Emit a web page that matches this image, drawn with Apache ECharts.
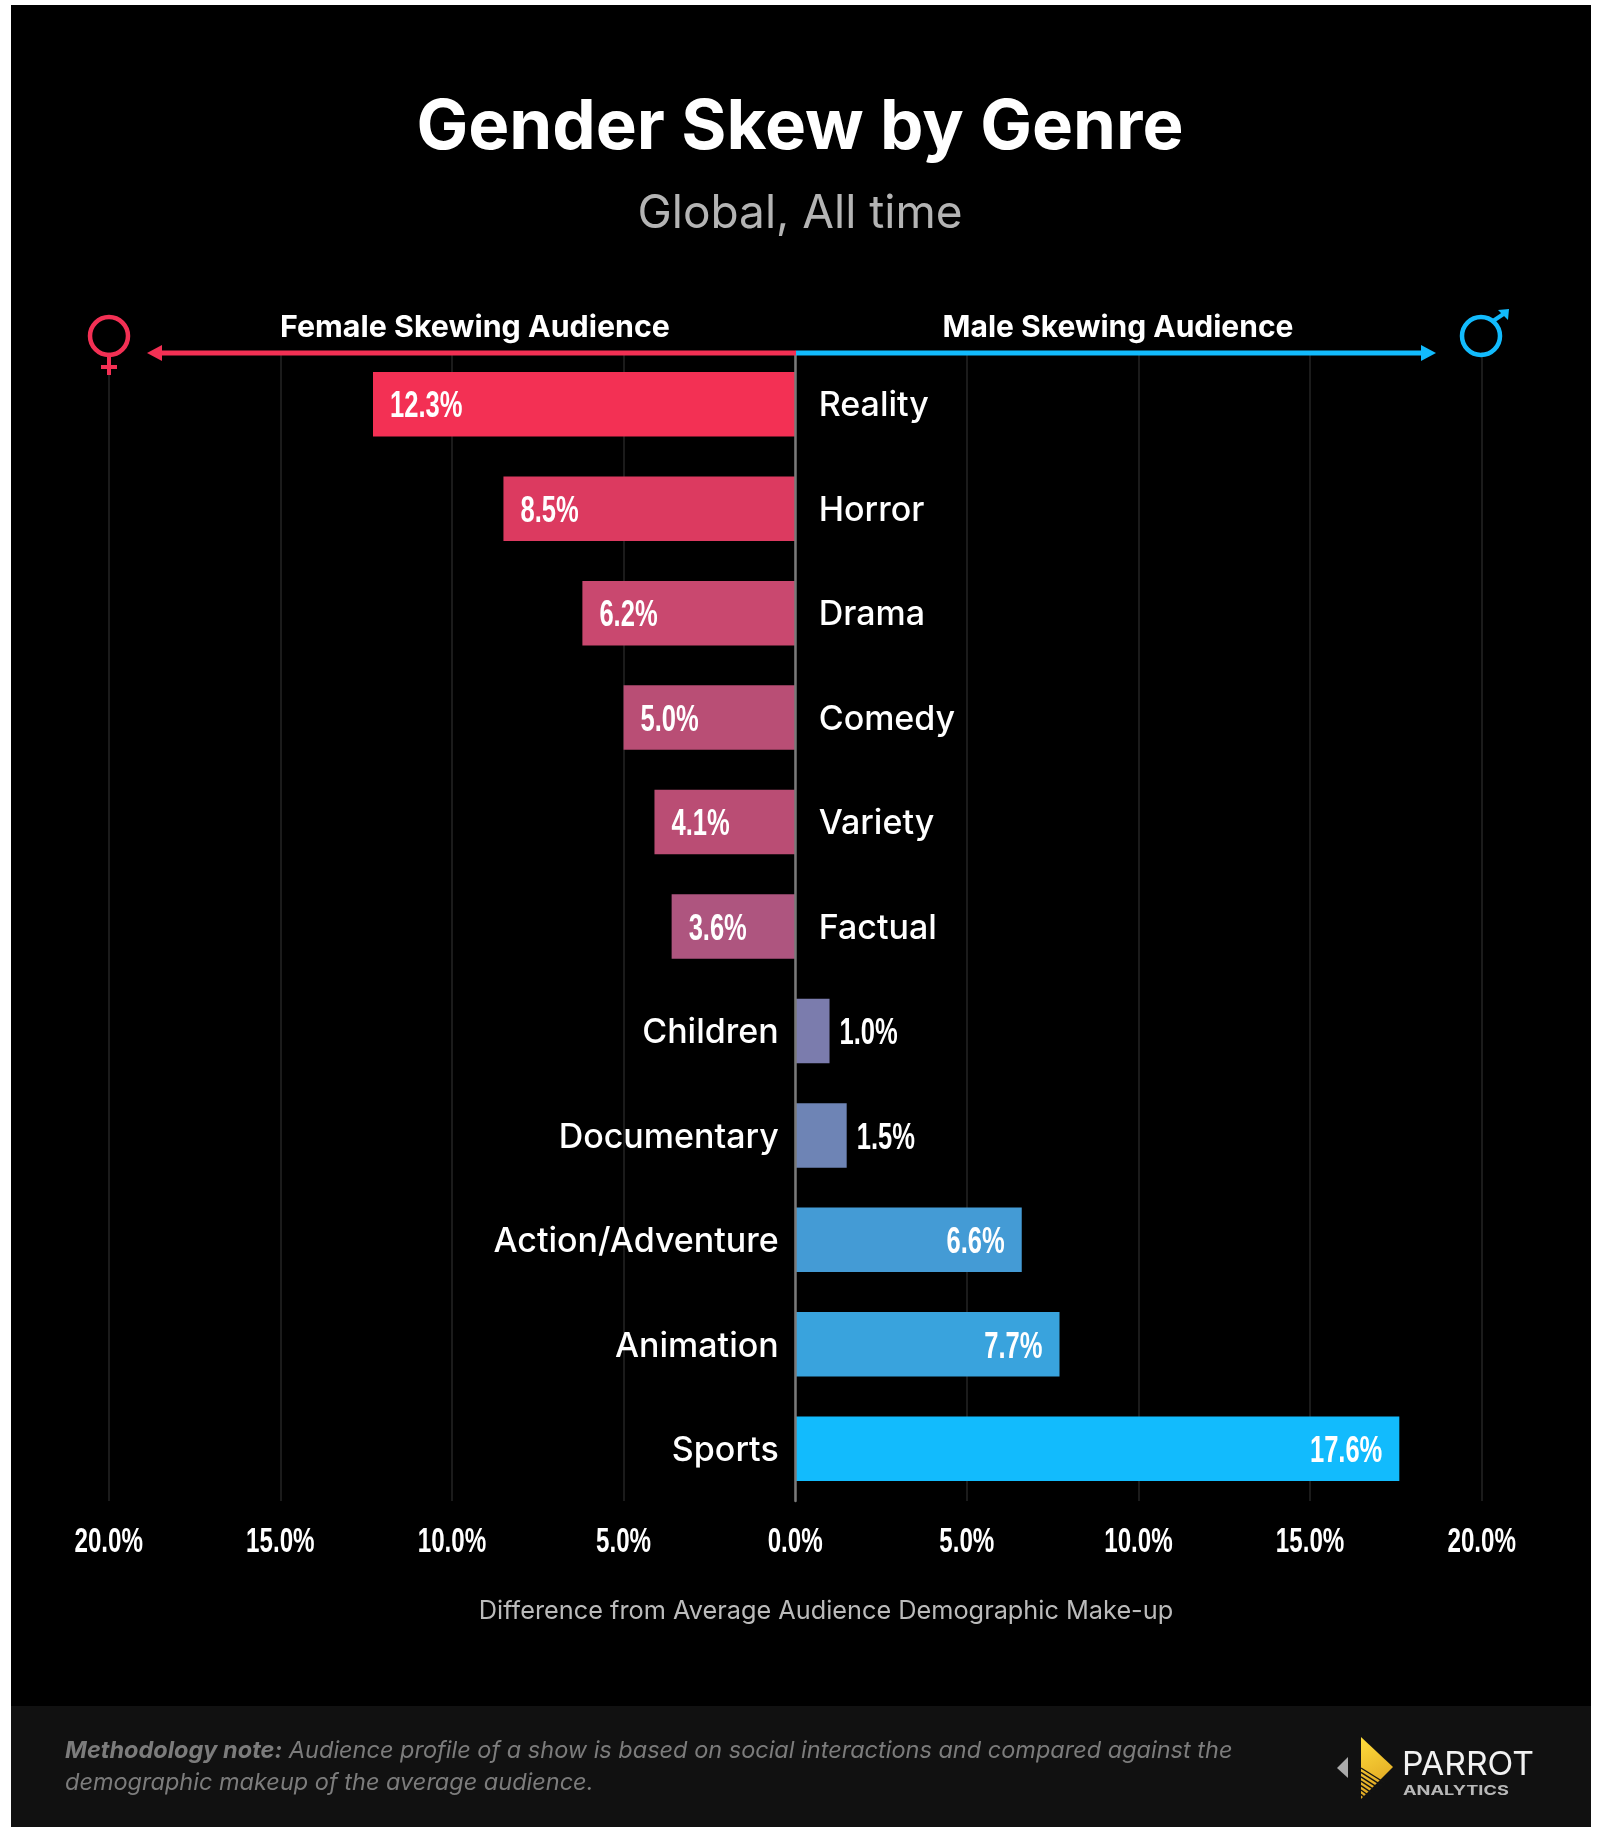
<!DOCTYPE html>
<html>
<head>
<meta charset="utf-8">
<title>Gender Skew by Genre</title>
<script src="https://cdn.jsdelivr.net/npm/echarts@6/dist/echarts.min.js"></script>
<style>
  html, body { margin: 0; padding: 0; background: #fff; }
  #chart { width: 1600px; height: 1829px; }
</style>
</head>
<body>
<div id="chart"></div>
<script>
const genres = ['Reality', 'Horror', 'Drama', 'Comedy', 'Variety', 'Factual', 'Children', 'Documentary', 'Action/Adventure', 'Animation', 'Sports'];
// negative = female skew, positive = male skew
const skew = [-12.3, -8.5, -6.2, -5.0, -4.1, -3.6, 1.0, 1.5, 6.6, 7.7, 17.6];
const barColors = ['#F33054', '#DC3A60', '#C9486F', '#B94E75', '#BA4D74', '#AE557F', '#7B7CAD', '#6E84B5', '#449BD5', '#39A3DD', '#12BBFD'];
const xTicks = [-20, -15, -10, -5, 0, 5, 10, 15, 20];

const PINK = '#F33054';
const BLUE = '#12BBFD';
const mainFont = 'Inter';
const numFont = '"Liberation Sans"';
// no condensed face installed, so the numbers are squeezed
const NUM_SQUEEZE = 0.69;

let chart = echarts.init(document.getElementById('chart'), null, { renderer: 'canvas' });

const pct = (v) => Math.abs(v).toFixed(1) + '%';

const txt = (text, x, y, size, color, weight, align, scaleX) => ({
  type: 'text',
  z: 10,
  x: x,
  y: y,
  scaleX: scaleX || 1,
  style: {
    text: text,
    font: (weight || 'normal') + ' ' + size + 'px ' + mainFont,
    fill: color,
    textAlign: align || 'center',
    textVerticalAlign: 'middle'
  }
});

const line = (pts, color, width) => ({
  type: 'polyline',
  z: 9,
  shape: { points: pts },
  style: { stroke: color, lineWidth: width, fill: null }
});

const poly = (pts, color) => ({
  type: 'polygon',
  z: 9,
  shape: { points: pts },
  style: { fill: color }
});

const circle = (cx, cy, r, color, width) => ({
  type: 'circle',
  z: 9,
  shape: { cx: cx, cy: cy, r: r },
  style: { stroke: color, lineWidth: width, fill: null }
});

// little stripes across the logo kite
let logoStripes = [];
for (let i = 0; i < 7; i++) {
  let y = 1768 + i * 4.4;
  logoStripes.push(line([[1361, y], [1361 + 24 - i * 3.4, y + 15 - i * 2]], '#141414', 1.4));
}

const graphics = [
  // page panels
  { type: 'rect', z: -10, shape: { x: 11, y: 5, width: 1580, height: 1822 }, style: { fill: '#000' } },
  { type: 'rect', z: -9, shape: { x: 11, y: 1706, width: 1580, height: 121 }, style: { fill: '#111' } },

  txt('Gender Skew by Genre', 800, 128, 69, '#fff', 'bold'),
  txt('Global, All time', 800, 214.5, 46, '#B4B4B4'),
  txt('Female Skewing Audience', 475, 328, 30.4, '#fff', 'bold'),
  txt('Male Skewing Audience', 1118, 328, 30, '#fff', 'bold'),
  txt('Difference from Average Audience Demographic Make-up', 826, 1611, 25.3, '#BBB'),

  // arrows
  line([[796, 353], [158, 353]], PINK, 5),
  poly([[147, 353], [162, 345], [162, 361]], PINK),
  line([[796, 353], [1424, 353]], BLUE, 5),
  poly([[1436, 353], [1421, 345], [1421, 361]], BLUE),

  // female sign
  circle(109, 336, 19, PINK, 4.5),
  line([[109, 356], [109, 375]], PINK, 4),
  line([[101, 367], [117, 367]], PINK, 4),

  // male sign
  circle(1481, 336, 19, BLUE, 4.5),
  line([[1493, 321], [1505, 313]], BLUE, 4),
  poly([[1509, 309], [1498, 310], [1508, 320]], BLUE),

  // footer note
  {
    type: 'text',
    z: 10,
    style: {
      text: '{b|Methodology note:} Audience profile of a show is based on social interactions and compared against the',
      x: 65, y: 1751,
      textVerticalAlign: 'middle',
      font: 'italic 23.5px ' + mainFont,
      fill: '#7C7C7C',
      rich: { b: { font: 'italic bold 23.5px ' + mainFont, fill: '#7C7C7C' } }
    }
  },
  {
    type: 'text',
    z: 10,
    style: {
      text: 'demographic makeup of the average audience.',
      x: 65, y: 1783,
      textVerticalAlign: 'middle',
      font: 'italic 23.5px ' + mainFont,
      fill: '#7C7C7C'
    }
  },

  // logo
  poly([[1337, 1768], [1348, 1757], [1348, 1778]], '#AAA'),
  {
    type: 'polygon',
    z: 9,
    shape: { points: [[1361, 1737], [1393, 1767], [1361, 1799]] },
    style: {
      fill: new echarts.graphic.LinearGradient(0, 0, 1, 1, [
        { offset: 0, color: '#FFDD3C' },
        { offset: 1, color: '#D99A1C' }
      ])
    }
  },
  ...logoStripes,
  txt('PARROT', 1402, 1765, 33, '#F2F2F2', 'normal', 'left', 1.02),
  txt('ANALYTICS', 1403, 1791, 13, '#B8B8B8', 'bold', 'left', 1.4)
];

// value labels on the bars
const renderValueLabel = (params, api) => {
  let v = api.value(0);
  let pt = api.coord([v, api.value(1)]);
  let outside = v > 0 && v < 3;
  let x, align;
  if (v < 0) {
    x = pt[0] + 17;
    align = 'left';
  } else if (outside) {
    x = pt[0] + 10;
    align = 'left';
  } else {
    x = pt[0] - 17;
    align = 'right';
  }
  return {
    type: 'text',
    x: x,
    y: pt[1] + 3,
    scaleX: NUM_SQUEEZE,
    style: {
      text: pct(v),
      font: 'bold 37px ' + numFont,
      fill: '#fff',
      textAlign: align,
      textVerticalAlign: 'middle',
      shadowColor: 'rgba(0,0,0,0.55)',
      shadowBlur: 3,
      shadowOffsetX: 2,
      shadowOffsetY: 2
    }
  };
};

// tick labels under the grid, same squeezed face as the bar labels
const renderTickLabel = (params, api) => {
  let pt = api.coord([api.value(0), 0]);
  return {
    type: 'text',
    x: pt[0],
    y: params.coordSys.y + params.coordSys.height + 41,
    scaleX: NUM_SQUEEZE,
    style: {
      text: pct(api.value(0)),
      font: 'bold 35px ' + numFont,
      fill: '#fff',
      textAlign: 'center',
      textVerticalAlign: 'middle'
    }
  };
};

let option = {
  backgroundColor: '#fff',
  animation: false,
  grid: { left: 108.7, top: 352, width: 1373, height: 1149, containLabel: false },
  xAxis: {
    type: 'value',
    min: -20,
    max: 20,
    interval: 5,
    axisLine: { show: false },
    axisTick: { show: false },
    axisLabel: { show: false },
    splitLine: { show: true, lineStyle: { color: '#252525', width: 1.5 } }
  },
  yAxis: {
    type: 'category',
    inverse: true,
    data: genres,
    axisTick: { show: false },
    axisLabel: { show: false },
    axisLine: { show: true, onZero: true, lineStyle: { color: '#7A7A7A', width: 2.5 } },
    z: 5
  },
  series: [
    {
      name: 'Skew',
      type: 'bar',
      barWidth: 64.5,
      z: 3,
      data: skew.map((v, i) => ({
        value: v,
        itemStyle: { color: barColors[i] }
      }))
    },
    {
      // genre names sit on the side of the axis away from the bar
      name: 'Genre',
      type: 'scatter',
      symbolSize: 1,
      silent: true,
      z: 4,
      itemStyle: { color: 'rgba(0,0,0,0)', opacity: 1 },
      data: genres.map((g, i) => ({
        value: [0, i],
        label: {
          show: true,
          position: skew[i] < 0 ? 'right' : 'left',
          distance: skew[i] < 0 ? 23 : 16,
          offset: [0, 2],
          color: '#fff',
          opacity: 1,
          fontFamily: mainFont,
          fontWeight: 500,
          fontSize: 34,
          formatter: g
        }
      }))
    },
    {
      name: 'Value labels',
      type: 'custom',
      silent: true,
      clip: false,
      z: 6,
      renderItem: renderValueLabel,
      data: skew.map((v, i) => [v, i])
    },
    {
      name: 'Tick labels',
      type: 'custom',
      silent: true,
      clip: false,
      z: 6,
      renderItem: renderTickLabel,
      data: xTicks.map((t) => [t, 0])
    }
  ],
  graphic: { elements: graphics }
};

chart.setOption(option);
</script>
</body>
</html>
